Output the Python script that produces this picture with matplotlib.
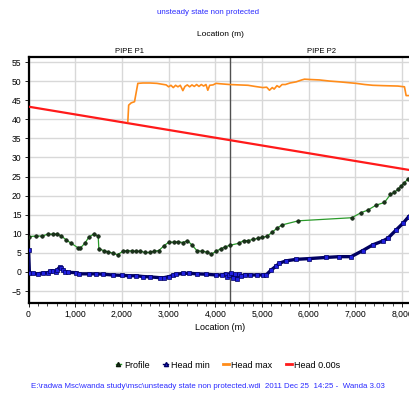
import numpy as np
import matplotlib
matplotlib.use("Agg")
import matplotlib.pyplot as plt
from matplotlib.lines import Line2D
from matplotlib.ticker import MultipleLocator, FuncFormatter
from matplotlib import font_manager

names = {f.name for f in font_manager.fontManager.ttflist}
narrow = [n for n in ("Liberation Sans Narrow", "DejaVu Sans Condensed") if n in names]
plt.rcParams["font.family"] = narrow + ["Liberation Sans", "DejaVu Sans"]
NARROW = bool(narrow)

# Pipeline geometry
PIPE_SPLIT = 4325
PIPE_END = 8220

# Profile (m)
profile_x = [0, 164, 293, 414, 521, 607, 692, 807, 914, 1064, 1113, 1206, 1292, 1392, 1492,
             1506, 1606, 1699, 1806, 1906, 2020, 2106, 2206, 2306, 2398, 2498, 2591, 2684,
             2791, 2905, 3005, 3105, 3205, 3304, 3404, 3504, 3604, 3718, 3818, 3918, 4018,
             4118, 4218, 4318, 4504, 4604, 4690, 4804, 4910, 5003, 5103, 5217, 5316, 5424,
             5781, 6923, 7115, 7265, 7443, 7622, 7750, 7836, 7907, 7979, 8050, 8121]
profile_y = [9.25, 9.4, 9.4, 9.9, 9.9, 9.9, 9.5, 8.4, 7.5, 6.3, 6.3, 7.5, 9.1, 9.9, 9.4,
             6.1, 5.6, 5.3, 4.9, 4.5, 5.4, 5.6, 5.5, 5.4, 5.4, 5.1, 5.1, 5.4,
             5.6, 6.9, 7.8, 7.8, 7.9, 7.7, 8.2, 7.0, 5.6, 5.4, 5.2, 4.7, 5.4,
             6.1, 6.6, 7.0, 7.5, 8.2, 8.2, 8.5, 8.8, 9.1, 9.3, 10.4, 11.4, 12.3,
             13.4, 14.2, 15.5, 16.2, 17.5, 18.2, 20.3, 20.9, 21.6, 22.5, 23.4, 24.3]

# Minimum head envelope
hmin_x = [0, 20, 100, 200, 300, 414, 470, 521, 580, 620, 664, 700, 740, 771, 850, 1021,
          1092, 1300, 1449, 1600, 1806, 2000, 2162, 2300, 2448, 2600, 2805, 2900, 3019,
          3100, 3162, 3300, 3447, 3600, 3800, 4018, 4150, 4220, 4260, 4300, 4340, 4380,
          4420, 4460, 4500, 4560, 4640, 4750, 4900, 5017, 5089, 5196, 5300, 5374, 5517,
          5731, 6016, 6373, 6659, 6909, 7158, 7372, 7586, 7693, 7872, 8015, 8142]
hmin_y = [5.8, -0.4, -0.4, -0.5, -0.3, -0.2, 0.2, 0.35, 0.0, 0.6, 1.2, 1.0, 0.6, 0.1, -0.1, -0.2,
          -0.5, -0.5, -0.5, -0.6, -0.8, -0.9, -1.0, -1.0, -1.2, -1.3, -1.5, -1.5, -1.2,
          -0.8, -0.6, -0.4, -0.35, -0.5, -0.6, -0.8, -0.8, -0.5, -1.2, -0.7, -0.4, -1.6,
          -0.6, -1.8, -0.6, -1.0, -0.7, -0.8, -0.8, -0.8, -0.8, 0.5, 1.5, 2.3, 2.9,
          3.3, 3.5, 3.8, 4.0, 4.0, 5.6, 7.1, 8.1, 8.8, 11.0, 12.7, 14.5]

# Maximum head envelope
hmax_x = [2127, 2145, 2200, 2270, 2341, 2450, 2600, 2750, 2948, 3000, 3050, 3100, 3150,
          3200, 3250, 3305, 3350, 3400, 3450, 3500, 3550, 3600, 3650, 3700, 3750, 3800,
          3839, 3880, 3950, 4018, 4100, 4304, 4500, 4700, 4850, 5017, 5100, 5160, 5220,
          5260, 5320, 5370, 5430, 5500, 5600, 5731, 5850, 5909, 6050, 6230, 6450, 6659,
          7016, 7200, 7372, 7600, 7907, 8050, 8086, 8157]
hmax_y = [39.4, 43.7, 44.3, 44.6, 49.4, 49.5, 49.5, 49.4, 49.0, 48.5, 48.9, 48.3, 48.9,
          48.5, 48.9, 47.5, 48.6, 49.0, 48.5, 49.0, 48.6, 49.1, 48.6, 49.1, 48.7, 49.1,
          47.6, 48.9, 49.0, 49.4, 49.3, 49.1, 49.0, 48.9, 48.6, 48.3, 48.4, 47.6, 48.3,
          47.9, 48.8, 48.4, 49.1, 49.1, 49.5, 49.8, 50.3, 50.5, 50.4, 50.3, 50.0, 49.8,
          49.4, 49.1, 48.9, 48.8, 48.7, 48.5, 46.2, 46.2]

# Initial head at t = 0.00 s
h0_x = [0, 8160]
h0_y = [43.3, 26.7]

# text sizes: a narrow face can stay larger
fs_tick = 7 if NARROW else 6.2
fs_lab = 7.5 if NARROW else 6.5
fs_top = 7 if NARROW else 6.0
fs_pipe = 6.5 if NARROW else 5.5
fs_small = 7 if NARROW else 5.7

fig = plt.figure(figsize=(4.10, 3.96), dpi=100)
ax = fig.add_axes([28.5 / 410, 1 - 303 / 396, (412.4 - 28.5) / 410, (303 - 57) / 396])

ax.plot(h0_x, h0_y, color="#ff1a1a", lw=1.6, zorder=3)
ax.plot(hmax_x, hmax_y, color="#ff8c1a", lw=1.2, zorder=3)
ax.plot(hmin_x, hmin_y, color="#000060", lw=2.4, marker="s", ms=2.2,
        mfc="#2020e0", mec="#000060", mew=0.5, zorder=4)
ax.plot(profile_x, profile_y, color="#2a9a2a", lw=0.9, marker="o", ms=2.6,
        mfc="#1a331a", mec="#0a1a0a", mew=0.4, zorder=5)

ax.axvline(PIPE_SPLIT, color="#505050", lw=1.0, zorder=2)

ax.set_xlim(0, PIPE_END)
ax.set_ylim(-8.14, 56.31)
ax.xaxis.set_major_locator(MultipleLocator(1000))
ax.xaxis.set_minor_locator(MultipleLocator(200))
ax.yaxis.set_major_locator(MultipleLocator(5))
ax.xaxis.set_major_formatter(FuncFormatter(lambda v, p: f"{int(v):,}"))
ax.tick_params(axis="both", labelsize=fs_tick, length=3, width=0.6, pad=2)
ax.tick_params(axis="x", which="minor", length=2, width=0.5)
ax.grid(True, which="major", color="#d8d8d8", lw=1.0, zorder=0)
ax.set_axisbelow(True)
for side in ("left", "bottom", "top"):
    ax.spines[side].set_linewidth(1.6)
ax.spines["right"].set_visible(False)

ax.set_xlabel("Location (m)", fontsize=fs_lab, labelpad=3)

# Pipe names above the plot area
ax.text(PIPE_SPLIT / 2, 56.9, "PIPE P1", ha="center", va="bottom", fontsize=fs_pipe)
ax.text((PIPE_SPLIT + PIPE_END) / 2, 56.9, "PIPE P2", ha="center", va="bottom", fontsize=fs_pipe)
fig.text(220 / 410, 1 - 35 / 396, "Location (m)", ha="center", va="center", fontsize=fs_top)
fig.text(208 / 410, 1 - 13 / 396, "unsteady state non protected", ha="center", va="center",
         fontsize=fs_small, color="#2a2aff")

handles = [
    Line2D([], [], color="#2a9a2a", lw=1.0, marker="^", ms=3, mfc="#1a331a", mec="#0a1a0a"),
    Line2D([], [], color="#000060", lw=1.0, marker="^", ms=3, mfc="#2020e0", mec="#000060"),
    Line2D([], [], color="#ff8c1a", lw=2.0),
    Line2D([], [], color="#ff1a1a", lw=2.0),
]
fig.legend(handles, ["Profile", "Head min", "Head max", "Head 0.00s"], loc="center",
           bbox_to_anchor=(228 / 410, 1 - 365 / 396), ncol=4, frameon=False, fontsize=fs_lab,
           handlelength=0.6, handletextpad=0.3, columnspacing=1.5)

fig.text(208 / 410, 1 - 387 / 396,
         "E:\\radwa Msc\\wanda study\\msc\\unsteady state non protected.wdi  2011 Dec 25  14:25 -  Wanda 3.03",
         ha="center", va="center", fontsize=fs_small, color="#2a2aff")

fig.savefig("out.png", dpi=100)
